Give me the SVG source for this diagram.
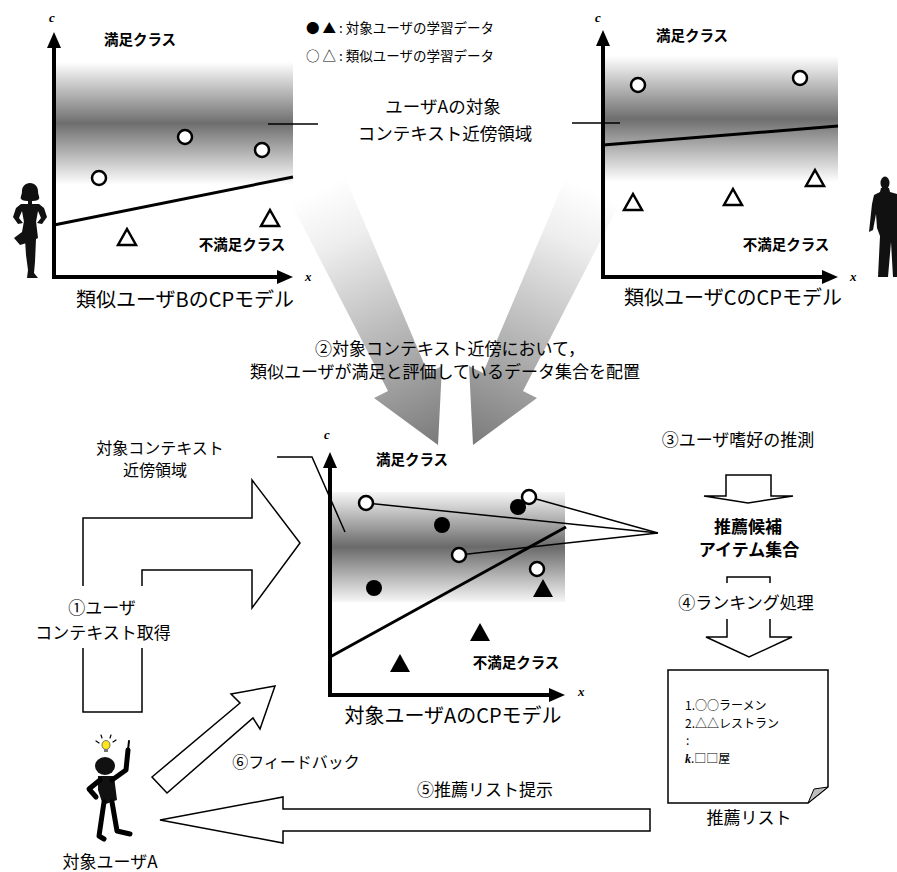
<svg xmlns="http://www.w3.org/2000/svg" width="897" height="872" viewBox="0 0 897 872">
<style>
  .t { font-family: "Noto Sans CJK JP", "Noto Sans", sans-serif; fill: #000; }
  .b { font-weight: bold; }
  .ax { font-family: "Liberation Serif", serif; font-style: italic; font-weight: bold; font-size: 13px; fill: #000; }
  .axis { fill: none; stroke: #000; stroke-width: 4; marker-start: url(#ah); marker-end: url(#ah); }
  .bound { fill: none; stroke: #000; stroke-width: 3; }
  .oc { fill: #fff; stroke: #000; stroke-width: 2.5; }
  .fc { fill: #000; }
  .ot { fill: #fff; stroke: #000; stroke-width: 2.5; stroke-linejoin: miter; }
  .thin { fill: none; stroke: #000; stroke-width: 1.5; }
  .block { fill: #fff; stroke: #000; stroke-width: 1.5; stroke-linejoin: miter; }
  .ink { fill: #111; }
  .limb { fill: none; stroke: #000; stroke-width: 5; stroke-linecap: round; stroke-linejoin: round; }
</style>
<defs>
  <marker id="ah" markerUnits="userSpaceOnUse" markerWidth="16" markerHeight="14" viewBox="0 0 16 14" refX="4" refY="7" orient="auto-start-reverse">
    <path d="M0,0 L16,7 L0,14 z" fill="#000"/>
  </marker>
  <linearGradient id="band" x1="0" y1="0" x2="0" y2="1">
    <stop offset="0" stop-color="#ffffff"/>
    <stop offset="0.5" stop-color="#6e6e6e"/>
    <stop offset="1" stop-color="#ffffff"/>
  </linearGradient>
  <linearGradient id="bandM" x1="0" y1="0" x2="0" y2="1">
    <stop offset="0" stop-color="#f6f6f6"/>
    <stop offset="0.5" stop-color="#6a6a6a"/>
    <stop offset="1" stop-color="#f6f6f6"/>
  </linearGradient>
  <linearGradient id="gL" gradientUnits="userSpaceOnUse" x1="318" y1="190" x2="438" y2="445">
    <stop offset="0" stop-color="#ffffff"/>
    <stop offset="0.2" stop-color="#eeeeee"/>
    <stop offset="1" stop-color="#7a7a7a"/>
  </linearGradient>
  <linearGradient id="gR" gradientUnits="userSpaceOnUse" x1="593" y1="190" x2="473" y2="445">
    <stop offset="0" stop-color="#ffffff"/>
    <stop offset="0.2" stop-color="#eeeeee"/>
    <stop offset="1" stop-color="#7a7a7a"/>
  </linearGradient>
</defs>

<!-- big shaded arrows merging the two neighbour models -->
<g id="merge-arrows">
  <polygon points="291,203 388,391 374,398 438,445 442,366 428,373 345,177" fill="url(#gL)"/>
  <polygon points="620,203 523,391 537,398 473,445 469,366 483,373 566,177" fill="url(#gR)"/>
</g>

<!-- legend -->
<g id="legend">
  <text class="t" x="306" y="33" font-size="13.5">● ▲ : 対象ユーザの学習データ</text>
  <text class="t" x="306" y="61" font-size="13.5">○ △ : 類似ユーザの学習データ</text>
</g>

<!-- model of neighbour user B -->
<g id="model-b">
  <rect x="56" y="62" width="237" height="123" fill="url(#band)"/>
  <line class="bound" x1="54" y1="225" x2="293" y2="177"/>
  <circle class="oc" cx="99" cy="178" r="7"/>
  <circle class="oc" cx="185" cy="137" r="7"/>
  <circle class="oc" cx="262" cy="150" r="7"/>
  <polygon class="ot" points="127,229 136,245 118,245"/>
  <polygon class="ot" points="270,210 279,226 261,226"/>
  <path class="axis" d="M54,44 V277 H281"/>
  <text class="ax" x="49" y="22">c</text>
  <text class="ax" x="305" y="281">x</text>
  <text class="t b" x="140" y="45" font-size="14.5" text-anchor="middle">満足クラス</text>
  <text class="t b" x="242" y="250" font-size="14.5" text-anchor="middle">不満足クラス</text>
  <text class="t" x="185" y="307" font-size="20" text-anchor="middle">類似ユーザBのCPモデル</text>
</g>

<!-- model of neighbour user C -->
<g id="model-c">
  <rect x="605" y="56" width="233" height="126" fill="url(#band)"/>
  <line class="bound" x1="603" y1="145" x2="838" y2="126"/>
  <circle class="oc" cx="638" cy="85" r="7"/>
  <circle class="oc" cx="800" cy="78" r="7"/>
  <polygon class="ot" points="633,194 642,210 624,210"/>
  <polygon class="ot" points="733,189 742,205 724,205"/>
  <polygon class="ot" points="815,170 824,186 806,186"/>
  <path class="axis" d="M603,42 V277 H826"/>
  <text class="ax" x="595" y="22">c</text>
  <text class="ax" x="850" y="281">x</text>
  <text class="t b" x="692" y="41" font-size="14.5" text-anchor="middle">満足クラス</text>
  <text class="t b" x="786" y="250" font-size="14.5" text-anchor="middle">不満足クラス</text>
  <text class="t" x="733" y="305" font-size="20" text-anchor="middle">類似ユーザCのCPモデル</text>
</g>

<!-- neighbourhood label shared by both models -->
<g id="region-label">
  <line class="thin" x1="268" y1="124" x2="318" y2="124"/>
  <line class="thin" x1="572" y1="123" x2="620" y2="123"/>
  <text class="t" x="443" y="113" font-size="17.5" text-anchor="middle">ユーザAの対象</text>
  <text class="t" x="445" y="140" font-size="17.5" text-anchor="middle">コンテキスト近傍領域</text>
</g>

<!-- silhouettes of users B and C -->
<g id="user-b">
  <path class="ink" d="M30,183 c-5,0 -8,4 -8,8 c0,4 -2,6 -1,8 c2,2 5,2 9,2 c4,0 7,0 9,-2 c1,-2 -1,-4 -1,-8 c0,-4 -3,-8 -8,-8 z"/>
  <rect class="ink" x="28" y="198" width="4" height="7"/>
  <path class="ink" d="M21,204 L39,204 L44,208 L47,217 L42,224 L37,223 L41,218 L38,211 L36,222 L24,222 L22,211 L19,218 L23,223 L18,224 L13,217 L16,208 Z"/>
  <path class="ink" d="M24,221 L36,221 L38,238 L30,242 L20,245 L14,238 L22,232 Z"/>
  <path class="ink" d="M25,239 L36,239 L35,262 L34,273 L38,278 L27,278 L28,270 L26,255 Z"/>
</g>
<g id="user-c">
  <ellipse class="ink" cx="885" cy="183" rx="4.5" ry="6.5"/>
  <path class="ink" d="M881,188 L889,188 L890,192 L897,194 L897,277 L893,277 L891,242 L888,277 L878,277 L880,236 L877,228 L876,214 L873,230 L869,232 L872,204 L874,195 L880,192 Z"/>
</g>

<!-- step 2 caption -->
<g id="step2">
  <text class="t" x="450" y="355" font-size="17" text-anchor="middle">②対象コンテキスト近傍において，</text>
  <text class="t" x="445" y="378" font-size="17" text-anchor="middle">類似ユーザが満足と評価しているデータ集合を配置</text>
</g>

<!-- model of target user A -->
<g id="model-a">
  <rect x="332" y="492" width="233" height="110" fill="url(#bandM)"/>
  <line class="bound" x1="330" y1="657" x2="566" y2="527"/>
  <g class="thin">
    <line x1="366" y1="503" x2="658" y2="533"/>
    <line x1="529" y1="497" x2="658" y2="533"/>
    <line x1="459" y1="555" x2="658" y2="533"/>
  </g>
  <circle class="fc" cx="442" cy="525" r="8"/>
  <circle class="fc" cx="518" cy="507" r="8"/>
  <circle class="fc" cx="374" cy="588" r="8"/>
  <circle class="oc" cx="366" cy="503" r="7"/>
  <circle class="oc" cx="529" cy="497" r="7"/>
  <circle class="oc" cx="459" cy="555" r="7"/>
  <circle class="oc" cx="537" cy="569" r="7"/>
  <polygon class="fc" points="543,579 553,597 533,597"/>
  <polygon class="fc" points="480,623 490,641 470,641"/>
  <polygon class="fc" points="400,654 410,672 390,672"/>
  <path class="axis" d="M330,464 V695 H553"/>
  <text class="ax" x="324" y="439">c</text>
  <text class="ax" x="578" y="696">x</text>
  <text class="t b" x="412" y="465" font-size="14.5" text-anchor="middle">満足クラス</text>
  <text class="t b" x="516" y="668" font-size="14.5" text-anchor="middle">不満足クラス</text>
  <text class="t" x="453" y="723" font-size="20" text-anchor="middle">対象ユーザAのCPモデル</text>
</g>

<!-- target neighbourhood label -->
<g id="target-region">
  <polyline class="thin" points="277,457 312,457 345,532"/>
  <text class="t" x="160" y="454" font-size="16" text-anchor="middle">対象コンテキスト</text>
  <text class="t" x="155" y="476" font-size="16" text-anchor="middle">近傍領域</text>
</g>

<!-- step 1: context acquisition -->
<g id="step1">
  <path class="block" d="M83,712 V518 H252 V480 L300,543 L252,608 V570 H142 V712 Z"/>
  <rect x="36" y="586" width="136" height="62" fill="#fff"/>
  <text class="t" x="102" y="614" font-size="17" text-anchor="middle">①ユーザ</text>
  <text class="t" x="103" y="639" font-size="17" text-anchor="middle">コンテキスト取得</text>
</g>

<!-- steps 3 and 4 -->
<g id="step3">
  <text class="t" x="738" y="446" font-size="17" text-anchor="middle">③ユーザ嗜好の推測</text>
  <path class="block" d="M726,475 H771 V496 H793 L748,503 L704,496 H726 Z"/>
</g>
<g id="candidates">
  <text class="t b" x="748" y="533" font-size="17" text-anchor="middle">推薦候補</text>
  <text class="t b" x="749" y="556" font-size="17" text-anchor="middle">アイテム集合</text>
</g>
<g id="step4">
  <path class="block" d="M727,577 H770 V637 H792 L749,657 L706,637 H727 Z"/>
  <rect x="670" y="583" width="150" height="36" fill="#fff"/>
  <text class="t" x="746" y="609" font-size="17" text-anchor="middle">④ランキング処理</text>
</g>

<!-- recommendation list -->
<g id="rec-list">
  <path class="block" d="M668,670 H828 V787 L808,803 H668 Z"/>
  <path d="M828,787 L808,803 L814,789 Z" fill="#bdbdbd" stroke="#000" stroke-width="1"/>
  <text class="t" x="685" y="710" font-size="12">1.○○ラーメン</text>
  <text class="t" x="685" y="727.5" font-size="12">2.△△レストラン</text>
  <text class="t" x="686" y="745" font-size="12">:</text>
  <text class="t" x="685" y="762.5" font-size="12"><tspan font-family="Liberation Serif, serif" font-style="italic" font-weight="bold">k</tspan>.□□屋</text>
  <text class="t" x="749" y="824" font-size="17" text-anchor="middle">推薦リスト</text>
</g>

<!-- steps 5 and 6 -->
<g id="connectors">
  <path class="block" d="M650,809 H283 V797 L160,820 L283,843 V831 H650 Z"/>
  <path class="block" d="M152,777 L240,703 L231,694 L275,686 L260,729 L253,718 L167,793 Z"/>
</g>
<g id="step5-6">
  <text class="t" x="296" y="768" font-size="16" text-anchor="middle">⑥フィードバック</text>
  <text class="t" x="485" y="796" font-size="17" text-anchor="middle">⑤推薦リスト提示</text>
</g>

<!-- target user A with an idea -->
<g id="user-a">
  <g stroke="#000" stroke-width="1.2" stroke-linecap="round">
    <line x1="96" y1="741" x2="99" y2="743"/>
    <line x1="101" y1="735" x2="102" y2="738"/>
    <line x1="111" y1="735" x2="110" y2="738"/>
    <line x1="116" y1="740" x2="113" y2="742"/>
  </g>
  <ellipse cx="106" cy="745" rx="4" ry="4.5" fill="#ffe81a" stroke="#555" stroke-width="0.8"/>
  <rect x="104" y="749" width="4" height="3" fill="#777"/>
  <ellipse class="ink" cx="105" cy="766" rx="10" ry="9"/>
  <path class="ink" d="M98,776 L114,776 L117,800 L103,805 L98,790 Z"/>
  <polyline class="limb" points="112,780 126,770 128,750"/>
  <line x1="128" y1="750" x2="129" y2="741" stroke="#000" stroke-width="2" stroke-linecap="round"/>
  <polyline class="limb" points="100,780 89,789 96,797"/>
  <polyline class="limb" points="104,802 99,836 104,839"/>
  <polyline class="limb" points="112,802 117,831 130,834"/>
  <text class="t" x="110" y="868" font-size="17" text-anchor="middle">対象ユーザA</text>
</g>
</svg>
